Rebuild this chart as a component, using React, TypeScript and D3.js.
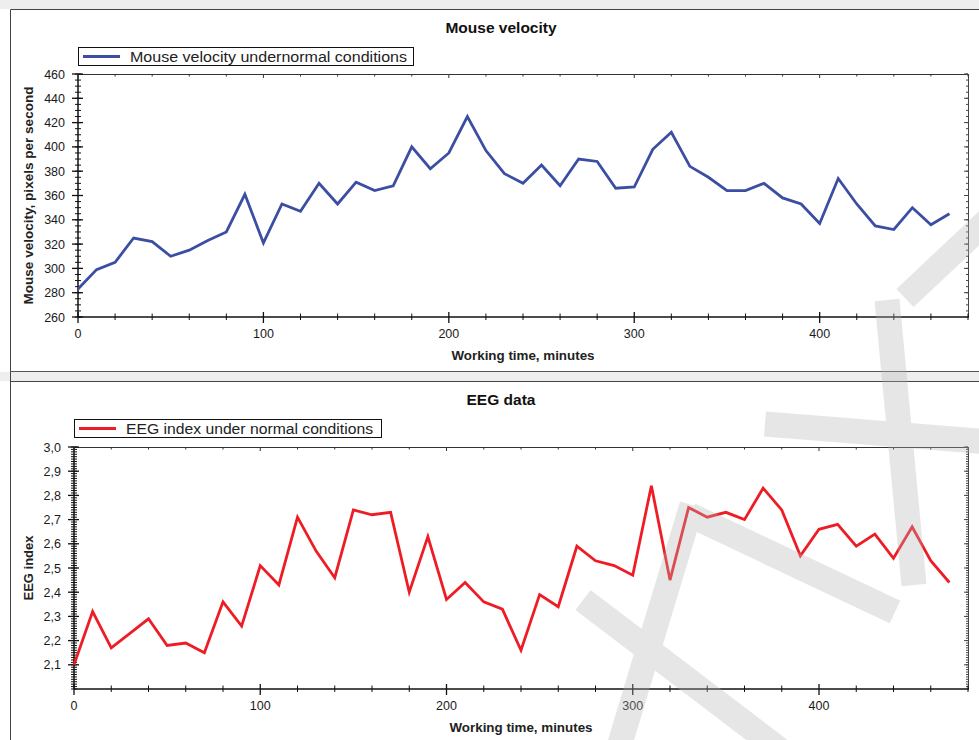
import React from "react";
import * as d3 from "d3";

// ---------- data ----------
const minutes = [0, 10, 20, 30, 40, 50, 60, 70, 80, 90, 100, 110, 120, 130, 140, 150, 160, 170, 180, 190, 200, 210, 220, 230, 240, 250, 260, 270, 280, 290, 300, 310, 320, 330, 340, 350, 360, 370, 380, 390, 400, 410, 420, 430, 440, 450, 460, 470];
const velocity = [283, 299, 305, 325, 322, 310, 315, 323, 330, 361, 321, 353, 347, 370, 353, 371, 364, 368, 400, 382, 395, 425, 397, 378, 370, 385, 368, 390, 388, 366, 367, 398, 412, 384, 375, 364, 364, 370, 358, 353, 337, 374, 353, 335, 332, 350, 336, 345];
const eeg = [2.10, 2.32, 2.17, 2.23, 2.29, 2.18, 2.19, 2.15, 2.36, 2.26, 2.51, 2.43, 2.71, 2.57, 2.46, 2.74, 2.72, 2.73, 2.40, 2.63, 2.37, 2.44, 2.36, 2.33, 2.16, 2.39, 2.34, 2.59, 2.53, 2.51, 2.47, 2.84, 2.45, 2.75, 2.71, 2.73, 2.70, 2.83, 2.74, 2.55, 2.66, 2.68, 2.59, 2.64, 2.54, 2.67, 2.53, 2.44];
const xTickLabels = [0, 100, 200, 300, 400];
const velocityTicks = [260, 280, 300, 320, 340, 360, 380, 400, 420, 440, 460];
const eegTicks = [2.1, 2.2, 2.3, 2.4, 2.5, 2.6, 2.7, 2.8, 2.9, 3.0];

const FONT = "'Liberation Sans', Arial, Helvetica, sans-serif";

type PanelProps = {
  title: string;
  titleY: number;
  legend: string;
  legendBox: [number, number, number, number];
  legendTextLen: number;
  color: string;
  values: number[];
  x: d3.ScaleLinear<number, number>;
  y: d3.ScaleLinear<number, number>;
  yTicks: number[];
  yLabelTicks: number[];
  yMinorStep: number;
  yFormat: (v: number) => string;
  yTitle: string;
  yTitleLen: number;
  xTitleY: number;
};

function Panel(p: PanelProps) {
  const [x0, x1] = p.x.range();
  const [yb, yt] = p.y.range();
  const [d0, d1] = p.y.domain();
  const minorY = d3.range(d0, d1 + p.yMinorStep / 2, p.yMinorStep);
  const xMinor = d3.range(0, 481, 20);
  const line = d3
    .line<number>()
    .x((_, i) => p.x(minutes[i]))
    .y((v) => p.y(v));
  const [lx, ly, lw, lh] = p.legendBox;
  const midX = (x0 + x1) / 2;
  const midY = (yb + yt) / 2;
  return (
    <g>
      <text x={501} y={p.titleY} textAnchor="middle" fontFamily={FONT} fontWeight="bold" fontSize={15.5} fill="#111">
        {p.title}
      </text>
      <rect x={lx + 0.5} y={ly + 0.5} width={lw} height={lh} fill="#fff" stroke="#111" strokeWidth={1} />
      <line x1={lx + 5} x2={lx + 42} y1={ly + lh / 2 + 0.5} y2={ly + lh / 2 + 0.5} stroke={p.color} strokeWidth={3} />
      <text x={lx + 52} y={ly + lh / 2 + 6} fontFamily={FONT} fontSize={15.5} fill="#222" textLength={p.legendTextLen} lengthAdjust="spacingAndGlyphs">
        {p.legend}
      </text>
      <line x1={x0} x2={x1} y1={yt + 0.5} y2={yt + 0.5} stroke="#333" strokeWidth={1} />
      <line x1={x1 + 0.5} x2={x1 + 0.5} y1={yt} y2={yb} stroke="#444" strokeWidth={1} />
      <line x1={x0} x2={x1 + 1} y1={yb} y2={yb} stroke="#111" strokeWidth={1.5} />
      <line x1={x0} x2={x0} y1={yt} y2={yb} stroke="#111" strokeWidth={1.5} />
      {minorY.map((v, i) => (
        <g key={"ym" + i}>
          <line x1={x0 - 3} x2={x0 + 3} y1={p.y(v)} y2={p.y(v)} stroke="#111" strokeWidth={1} />
          <line x1={x1 - 2} x2={x1} y1={p.y(v)} y2={p.y(v)} stroke="#444" strokeWidth={1} />
        </g>
      ))}
      {p.yTicks.map((v, i) => (
        <g key={"yM" + i}>
          <line x1={x0 - 6} x2={x0 + 5} y1={p.y(v)} y2={p.y(v)} stroke="#111" strokeWidth={1.3} />
          <line x1={x1 - 4} x2={x1} y1={p.y(v)} y2={p.y(v)} stroke="#444" strokeWidth={1} />
        </g>
      ))}
      {p.yLabelTicks.map((v, i) => (
        <text key={"yl" + i} x={x0 - 13} y={p.y(v) + 4.5} textAnchor="end" fontFamily={FONT} fontSize={12.5} fill="#1a1a1a">
          {p.yFormat(v)}
        </text>
      ))}
      {xMinor.map((v, i) => {
        const major = v % 100 === 0;
        return (
          <g key={"xt" + i}>
            <line x1={p.x(v)} x2={p.x(v)} y1={yb - (major ? 5 : 3.5)} y2={yb + (major ? 6 : 3)} stroke="#111" strokeWidth={major ? 1.3 : 1} />
            <line x1={p.x(v)} x2={p.x(v)} y1={yt} y2={yt + (major ? 4 : 2.5)} stroke="#333" strokeWidth={1} />
          </g>
        );
      })}
      {xTickLabels.map((v, i) => (
        <text key={"xl" + i} x={p.x(v)} y={yb + 21} textAnchor="middle" fontFamily={FONT} fontSize={12.5} fill="#1a1a1a">
          {v}
        </text>
      ))}
      <text x={midX} y={p.xTitleY} textAnchor="middle" fontFamily={FONT} fontWeight="bold" fontSize={12.5} fill="#222" textLength={143} lengthAdjust="spacingAndGlyphs">
        Working time, minutes
      </text>
      <text transform={`translate(33,${midY}) rotate(-90)`} textAnchor="middle" fontFamily={FONT} fontWeight="bold" fontSize={12.5} fill="#222" textLength={p.yTitleLen} lengthAdjust="spacingAndGlyphs">
        {p.yTitle}
      </text>
      <path d={line(p.values) || ""} fill="none" stroke={p.color} strokeWidth={2.8} strokeLinejoin="miter" />
    </g>
  );
}

export default function App() {
  const xTop = d3.scaleLinear().domain([0, 480]).range([78, 968]);
  const yTop = d3.scaleLinear().domain([260, 460]).range([317, 74]);
  const xBot = d3.scaleLinear().domain([0, 480]).range([74, 968]);
  const yBot = d3.scaleLinear().domain([2.0, 3.0]).range([689, 447]);
  const comma = (v: number) => v.toFixed(1).replace(".", ",");

  // watermark strokes (decoration, not data)
  const wm: [number, number, number, number][] = [
    [583, 600, 780, 750],
    [692, 505, 618, 750],
    [690, 515, 895, 612],
    [765, 424, 990, 442],
    [887, 300, 914, 585],
    [905, 298, 990, 218],
  ];

  return (
    <svg width={979} height={740} style={{ position: "absolute", left: 0, top: 0, background: "#fff" }}>
      <rect x={0} y={0} width={979} height={740} fill="#fff" />
      <rect x={0} y={0} width={979} height={9} fill="#eeeeee" />
      <rect x={0} y={372} width={979} height={9} fill="#eeeeee" />
      <path d="M10.5,740 V9.5 H979" fill="none" stroke="#444" strokeWidth={1} />
      <line x1={10} x2={979} y1={371.5} y2={371.5} stroke="#555" strokeWidth={1} />
      <path d="M10.5,740 V381.5 H979" fill="none" stroke="#444" strokeWidth={1} />

      <Panel
        title="Mouse velocity"
        titleY={33}
        legend="Mouse velocity undernormal conditions"
        legendBox={[78, 47, 335, 18]}
        legendTextLen={277}
        color="#3b4ea2"
        values={velocity}
        x={xTop}
        y={yTop}
        yTicks={velocityTicks}
        yLabelTicks={velocityTicks}
        yMinorStep={5}
        yFormat={(v) => String(v)}
        yTitle="Mouse velocity, pixels per second"
        yTitleLen={218}
        xTitleY={360}
      />
      <Panel
        title="EEG data"
        titleY={405}
        legend="EEG index under normal conditions"
        legendBox={[74, 419, 307, 18]}
        legendTextLen={247}
        color="#ee1c24"
        values={eeg}
        x={xBot}
        y={yBot}
        yTicks={eegTicks}
        yLabelTicks={eegTicks}
        yMinorStep={0.01}
        yFormat={comma}
        yTitle="EEG index"
        yTitleLen={65}
        xTitleY={732}
      />
      <g opacity={0.32}>
        {wm.map((s, i) => (
          <line key={i} x1={s[0]} y1={s[1]} x2={s[2]} y2={s[3]} stroke="#b4b4b4" strokeWidth={25} strokeLinecap="butt" />
        ))}
      </g>
    </svg>
  );
}
